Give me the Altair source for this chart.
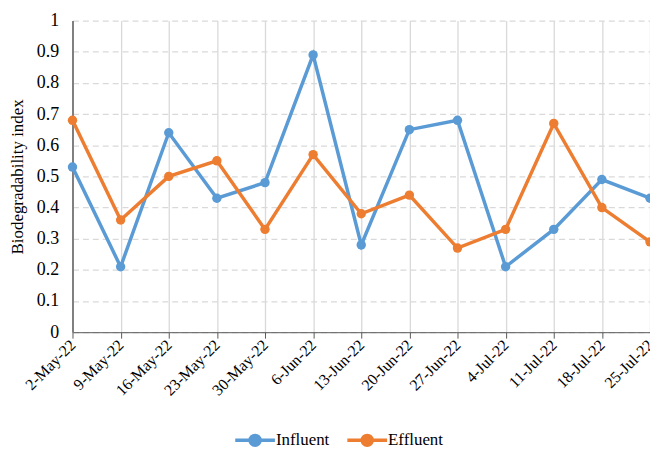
import altair as alt
import pandas as pd

dates = ["2-May-22", "9-May-22", "16-May-22", "23-May-22", "30-May-22", "6-Jun-22",
         "13-Jun-22", "20-Jun-22", "27-Jun-22", "4-Jul-22", "11-Jul-22", "18-Jul-22", "25-Jul-22"]
influent = [0.53, 0.21, 0.64, 0.43, 0.48, 0.89, 0.28, 0.65, 0.68, 0.21, 0.33, 0.49, 0.43]
effluent = [0.68, 0.36, 0.50, 0.55, 0.33, 0.57, 0.38, 0.44, 0.27, 0.33, 0.67, 0.40, 0.29]
series = ["Influent", "Effluent"]
colors = ["#5B9BD5", "#ED7D31"]

rows = []
for d, a, b in zip(dates, influent, effluent):
    rows.append({"date": d, "series": "Influent", "value": a})
    rows.append({"date": d, "series": "Effluent", "value": b})
df = pd.DataFrame(rows)

FONT = "Times New Roman"
sym = "M-2,0L-0.5,0M0.5,0L2,0M-0.5,0A0.5,0.5 0 1,1 0.5,0A0.5,0.5 0 1,1 -0.5,0Z"

chart = alt.Chart(df).mark_line(
    strokeWidth=3.5,
    point=alt.OverlayMarkDef(filled=True, size=90, opacity=1),
).encode(
    x=alt.X("date:N", sort=dates, scale=alt.Scale(type="point", padding=0),
            axis=alt.Axis(title=None, labelAngle=-45, labelFontSize=16, labelFont=FONT,
                          labelColor="#000", domainColor="#595959", tickColor="#595959",
                          tickSize=6, labelPadding=4, grid=True, gridColor="#d9d9d9",
                          gridWidth=1.3, labelAlign="right", labelBaseline="middle")),
    y=alt.Y("value:Q", scale=alt.Scale(domain=[0, 1], nice=False),
            axis=alt.Axis(title="Biodegradability index", titleFont=FONT, titleFontSize=17,
                          titleFontWeight="normal", titleColor="#000", titlePadding=10,
                          labelFont=FONT, labelFontSize=18, labelColor="#000",
                          values=[i / 10 for i in range(11)], format="~g",
                          ticks=False, labelPadding=14, domainColor="#7f7f7f", domainWidth=2,
                          gridColor="#d9d9d9", gridDash=[6, 4], gridWidth=1.3)),
    color=alt.Color("series:N", sort=series,
                    scale=alt.Scale(domain=series, range=colors),
                    legend=alt.Legend(title=None, orient="none", legendX=172, legendY=411,
                                      direction="horizontal", symbolType=sym, symbolSize=400,
                                      symbolStrokeWidth=3.5, labelFont=FONT, labelFontSize=17,
                                      labelColor="#000", columnPadding=11, labelOffset=9,
                                      symbolOffset=0, padding=0)),
).properties(
    width=582, height=314,
    autosize=alt.AutoSizeParams(type="none"),
    padding={"left": 65, "top": 11, "right": 0, "bottom": 116},
).configure_view(stroke=None)

chart.save("out.html", embed_options={"renderer": "svg", "actions": False})
